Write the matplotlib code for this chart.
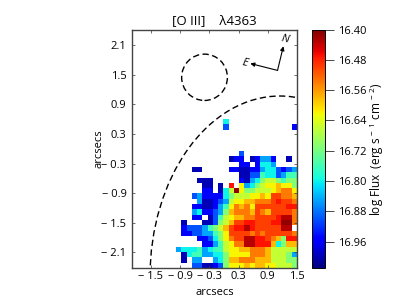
import numpy as np
import matplotlib
matplotlib.use("Agg")
import matplotlib.pyplot as plt
from matplotlib.patches import Circle, Ellipse

plt.rcParams['font.family'] = ['Open Sans', 'DejaVu Sans']
plt.rcParams['mathtext.fontset'] = 'custom'
plt.rcParams['mathtext.rm'] = 'Open Sans'

# flux, one letter per spaxel
flux_levels = {'a': 17.00, 'b': 16.95, 'c': 16.90, 'd': 16.85, 'e': 16.80,
               'f': 16.76, 'g': 16.71, 'h': 16.66, 'i': 16.62, 'j': 16.58,
               'k': 16.54, 'l': 16.50, 'm': 16.47, 'n': 16.43, 'o': 16.41}

flux_rows = [
    ".........e.............",
    ".........c............b",
    ".......................",
    ".......................",
    ".......................",
    ".......................",
    "............c..........",
    "..........abb.abddb..a.",
    "............bb.beed....",
    "...aa.....bbaabbdeecbcd",
    "............aaccfeecdff",
    "....aaa.....badeghhgfgg",
    ".....aa.a.m.ideghiijiig",
    ".....bb.aehoigghhhijkki",
    "...cdbbbbeghhhiijillkkj",
    "....daabcdhiijjkkklmllk",
    "...bbaabdfikjkillllllmm",
    "...debbcdgjkkkjlkjllllk",
    "...bb.acfhijjkkllllmnnk",
    ".a...aacghjllmmlllmmook",
    ".bcccdfghjlmmnmlllllnn.",
    ".bbccddfgillllklklllllk",
    "....bbcegikllnnmmlkjgmm",
    ".....bbdfhikknnmmmjegjj",
    "deeefdeffhiijjkkkjhhhhh",
    ".aeffddeegiiiikkkjhhhgd",
    ".a.dd..degjjkkkjjjhhhgg",
    "...ccaabcgiiijijjiihhhg",
]

xticks = [-1.5, -0.9, -0.3, 0.3, 0.9, 1.5]
yticks = [-2.1, -1.5, -0.9, -0.3, 0.3, 0.9, 1.5, 2.1]
cbar_ticks = [16.40, 16.48, 16.56, 16.64, 16.72, 16.80, 16.88, 16.96]

flux = np.array([[flux_levels.get(c, np.nan) for c in row] for row in flux_rows])
flux = flux[::-1]

spaxel = 0.108
x_edges = 1.5 - spaxel * np.arange(flux.shape[1], -1, -1)
y_edges = -2.42 + spaxel * np.arange(flux.shape[0] + 1)

fig = plt.figure(figsize=(3.99, 2.99), dpi=100)
ax = fig.add_axes([132 / 399, 1 - 268 / 299, 165 / 399, 238.5 / 299])
mesh = ax.pcolormesh(x_edges, y_edges, np.ma.masked_invalid(flux), cmap="jet_r",
                     vmin=16.40, vmax=17.03)

ax.add_patch(Ellipse((1.15, -2.6), 5.34, 7.34, fill=False, ls=(0, (4.5, 2.5)), lw=1.0, color="k"))
ax.add_patch(Circle((-0.4, 1.45), 0.47, fill=False, ls=(0, (4.5, 2.5)), lw=1.0, color="k"))

# compass
ax.annotate("", xy=(1.22, 2.08), xytext=(1.1, 1.59),
            arrowprops=dict(arrowstyle="-|>", color="k", lw=0.8, mutation_scale=6, shrinkA=0, shrinkB=0))
ax.annotate("", xy=(0.54, 1.73), xytext=(1.1, 1.59),
            arrowprops=dict(arrowstyle="-|>", color="k", lw=0.8, mutation_scale=6, shrinkA=0, shrinkB=0))
ax.text(1.26, 2.22, "N", style="italic", fontsize=8, rotation=-12, ha="center", va="center")
ax.text(0.42, 1.74, "E", style="italic", fontsize=8, rotation=-12, ha="center", va="center")

ax.set_xlim(-1.89, 1.5)
ax.set_ylim(-2.42, 2.42)
ax.set_xticks(xticks)
ax.set_yticks(yticks)
ax.set_xticklabels(["\u2212 %.1f" % abs(t) if t < 0 else "%.1f" % t for t in xticks])
ax.set_yticklabels(["\u2212 %.1f" % abs(t) if t < 0 else "%.1f" % t for t in yticks])
ax.tick_params(direction="in", top=True, right=True, length=2.5, width=0.5, labelsize=8, pad=4, color="#333333")
ax.tick_params(axis="x", pad=2.5)
for spine in ax.spines.values():
    spine.set_linewidth(1.0)
    spine.set_color("#444444")
ax.set_title("[O III]    \u03bb4363", fontsize=9.5, pad=4)
ax.set_xlabel("arcsecs", fontsize=8, labelpad=3)
ax.set_ylabel("arcsecs", fontsize=8, labelpad=-2)

cax = fig.add_axes([312 / 399, 1 - 268 / 299, 13 / 399, 238.5 / 299])
cb = fig.colorbar(mesh, cax=cax)
cax.set_ylim(17.03, 16.40)
cb.set_ticks(cbar_ticks)
cb.set_ticklabels(["%.2f" % t for t in cbar_ticks])
cax.tick_params(length=6.5, width=0.5, labelsize=8, pad=3)
cb.outline.set_linewidth(0.7)
cb.set_label("log Flux  (erg s$^{\\,-\\,1}$ cm$^{\\,-\\,2}$)", fontsize=8.5, labelpad=1)

fig.savefig("out.png", dpi=100)
